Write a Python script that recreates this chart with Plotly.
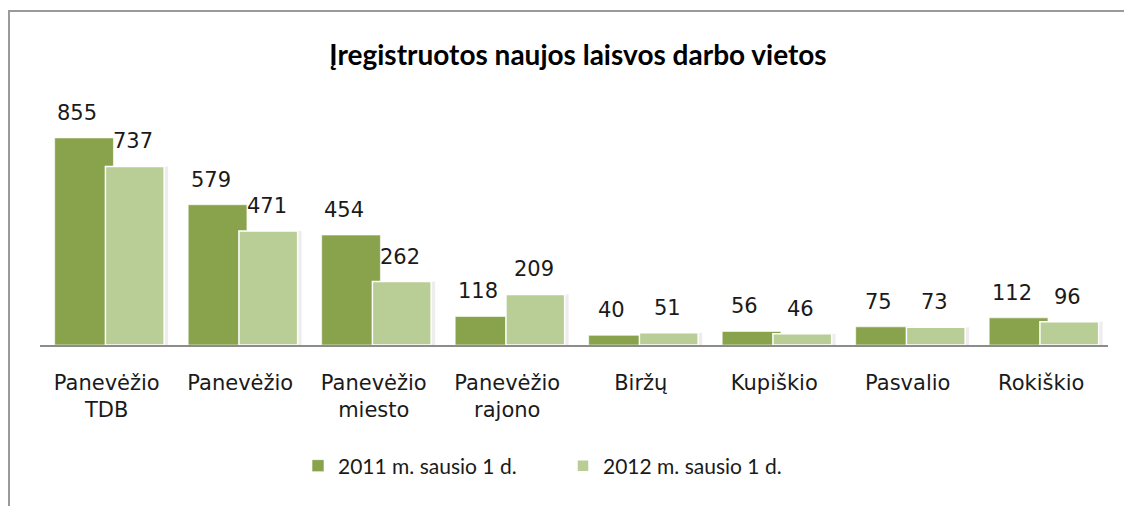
import plotly.graph_objects as go

categories = ["Panevėžio<br>TDB", "Panevėžio", "Panevėžio<br>miesto", "Panevėžio<br>rajono",
              "Biržų", "Kupiškio", "Pasvalio", "Rokiškio"]
values_2011 = [855, 579, 454, 118, 40, 56, 75, 112]
values_2012 = [737, 471, 262, 209, 51, 46, 73, 96]
series_names = ["2011 m. sausio 1 d.", "2012 m. sausio 1 d."]
title_text = "Įregistruotos naujos laisvos darbo vietos"

x_idx = list(range(len(categories)))
dark = "#89A24C"
light = "#B9CD96"

fig = go.Figure()
fig.add_trace(go.Bar(x=x_idx, y=values_2012, width=0.03, offset=0.43, showlegend=False,
                     hoverinfo="skip", marker=dict(color="rgba(0,0,0,0.07)", line=dict(width=0))))
fig.add_trace(go.Bar(x=x_idx, y=values_2011, name=series_names[0], width=0.44, offset=-0.39,
                     marker=dict(color=dark, line=dict(color="rgba(255,255,255,0.6)", width=1))))
fig.add_trace(go.Bar(x=x_idx, y=values_2012, name=series_names[1], width=0.44, offset=-0.01,
                     marker=dict(color=light, line=dict(color="white", width=1.5))))

label_font = dict(family="DejaVu Sans", size=21, color="#1a1a1a")
annotations = []
for i, v in enumerate(values_2011):
    annotations.append(dict(x=i - 0.22, y=v, text=str(v), showarrow=False, yshift=25,
                            yanchor="middle", xanchor="center", font=label_font))
for i, v in enumerate(values_2012):
    annotations.append(dict(x=i + 0.2, y=v, text=str(v), showarrow=False, yshift=25,
                            yanchor="middle", xanchor="center", font=label_font))

# figure is drawn inside the page's 8px body margin
W, H = 1124, 498
L, R, T, B = 32, 24, 119, 161
pw, ph = W - L - R, H - T - B
def px(xp): return (xp - L) / pw
def py(yp): return (H - B - yp) / ph
shapes = [
    dict(type="line", xref="paper", yref="paper", x0=px(0), x1=px(W), y0=py(3), y1=py(3),
         line=dict(color="#9a9a9a", width=2)),
    dict(type="line", xref="paper", yref="paper", x0=px(1), x1=px(1), y0=py(2), y1=py(H),
         line=dict(color="#9a9a9a", width=2)),
]

fig.update_layout(
    width=W, height=H,
    margin=dict(l=L, r=R, t=T, b=B, autoexpand=False),
    barmode="overlay",
    plot_bgcolor="white", paper_bgcolor="white",
    title=dict(text="<b>" + title_text + "</b>", x=570 / W, xanchor="center", xref="container",
               y=1 - 47 / H, yanchor="middle", yref="container",
               font=dict(family="Lato", size=28, color="#000000")),
    xaxis=dict(tickmode="array", tickvals=x_idx, ticktext=categories, range=[-0.5, 7.5],
               showline=True, linecolor="#8c8c8c", linewidth=1.5, showgrid=False, zeroline=False,
               ticks="outside", ticklen=18, tickcolor="rgba(0,0,0,0)", automargin=False,
               tickfont=dict(family="DejaVu Sans", size=21, color="#1a1a1a")),
    yaxis=dict(range=[0, 900], visible=False, showgrid=False, zeroline=False, automargin=False),
    showlegend=True,
    legend=dict(orientation="h", x=290 / W, xanchor="left", xref="container",
                y=1 - 458 / H, yanchor="middle", yref="container",
                font=dict(family="Lato", size=21, color="#1a1a1a"),
                entrywidth=220, entrywidthmode="pixels", itemwidth=30, traceorder="normal"),
    annotations=annotations,
    shapes=shapes,
)

fig.write_html("out.html")
